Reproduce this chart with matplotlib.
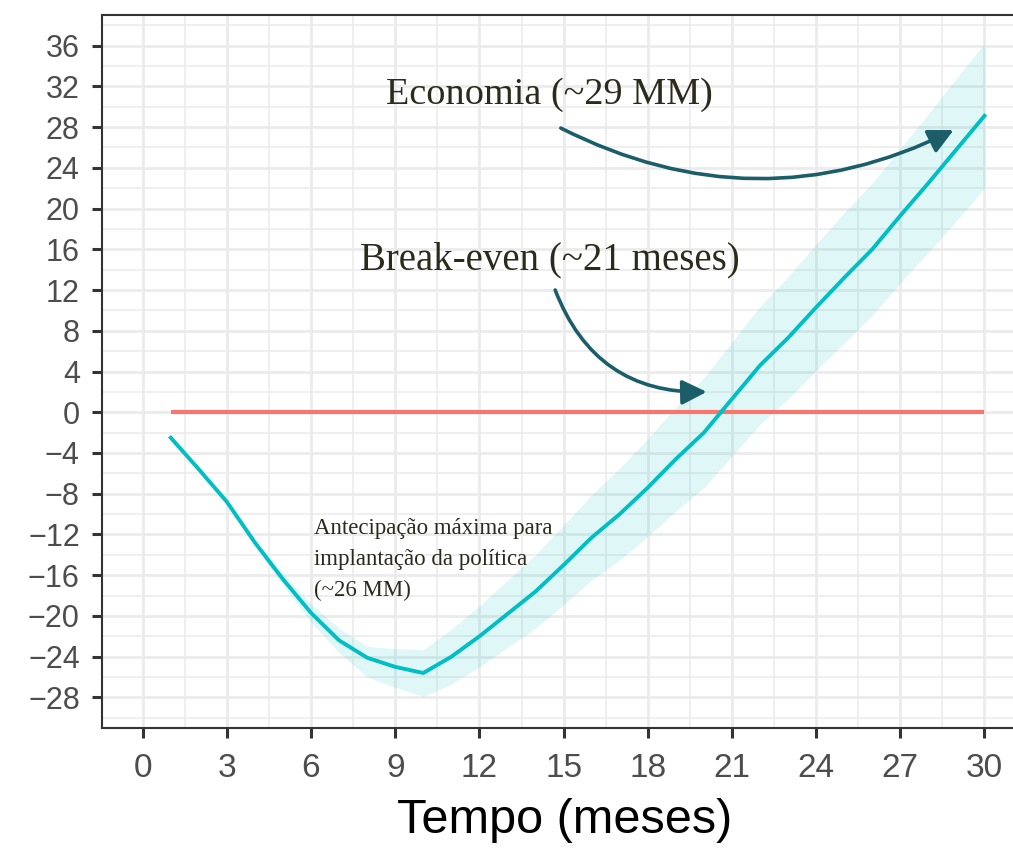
# -- Imports ---------------------------------------------------------------
import matplotlib
matplotlib.use("Agg")
import matplotlib.pyplot as plt

# -- Data ------------------------------------------------------------------
meses = [1, 2, 3, 4, 5, 6, 7, 8, 9, 10, 11, 12, 13, 14, 15, 16, 17, 18, 19,
         20, 21, 22, 23, 24, 25, 26, 27, 28, 29, 30]
saldo = [-2.5, -5.6, -8.8, -12.8, -16.4, -19.7, -22.4, -24.1, -25.0, -25.6,
         -24.0, -22.0, -19.8, -17.6, -15.0, -12.3, -10.0, -7.4, -4.6, -2.0,
         1.3, 4.6, 7.3, 10.3, 13.2, 16.0, 19.3, 22.5, 25.8, 29.1]
saldo_inf = [-2.5, -5.6, -8.9, -13.1, -17.0, -20.6, -23.6, -26.0, -27.0, -27.9,
             -26.7, -25.0, -23.1, -21.2, -18.9, -16.5, -14.5, -12.2, -9.7, -7.4,
             -4.3, -1.2, 1.3, 4.1, 6.8, 9.5, 12.7, 15.7, 18.8, 22.0]
saldo_sup = [-2.5, -5.6, -8.7, -12.5, -15.8, -18.8, -21.2, -23.0, -23.2, -23.3,
             -21.3, -19.0, -16.5, -14.0, -11.1, -8.1, -5.5, -2.6, 0.5, 3.4,
             6.9, 10.4, 13.3, 16.5, 19.6, 22.5, 25.9, 29.3, 32.8, 36.2]

x_ticks = [0, 3, 6, 9, 12, 15, 18, 21, 24, 27, 30]
y_ticks = [-28, -24, -20, -16, -12, -8, -4, 0, 4, 8, 12, 16, 20, 24, 28, 32, 36]

texto_economia = "Economia (~29 MM)"
texto_break = "Break-even (~21 meses)"
texto_antecip = "Antecipação máxima para\nimplantação da política\n(~26 MM)"

# -- Plot ------------------------------------------------------------------
plt.rcParams['font.family'] = ['Liberation Sans', 'DejaVu Sans']

fig = plt.figure(figsize=(10.13, 8.48), dpi=100)
ax = fig.add_axes([0.1007, 0.1415, 0.9127, 0.8408])

ax.set_xlim(-1.45, 31.45)
ax.set_ylim(-31.0, 39.0)

# grid like ggplot theme_bw
ax.set_xticks(x_ticks)
ax.set_yticks(y_ticks)
ax.set_xticks([t + 1.5 for t in x_ticks[:-1]] + [31.5], minor=True)
ax.set_yticks([t + 2 for t in y_ticks] + [-30], minor=True)
ax.grid(which='major', color='#ebebeb', linewidth=2.0, zorder=0)
ax.grid(which='minor', color='#ebebeb', linewidth=1.1, zorder=0)
ax.set_axisbelow(True)
ax.tick_params(which='minor', length=0)
ax.tick_params(which='major', length=7, width=2.2, color='#333333',
               labelcolor='#4d4d4d')
ax.tick_params(axis='y', labelsize=22, pad=9)
ax.tick_params(axis='x', labelsize=24, pad=11)
for s in ax.spines.values():
    s.set_color('#333333')
    s.set_linewidth(1.5)

# confidence band + line
ax.fill_between(meses, saldo_inf, saldo_sup, color='#00BFC4', alpha=0.12,
                linewidth=0, zorder=2)
ax.plot([meses[0], meses[-1]], [0, 0], color='#F8766D', linewidth=3, zorder=3,
        solid_capstyle='butt')
ax.plot(meses, saldo, color='#00BFC4', linewidth=2.8, zorder=4)

ax.set_xlabel("Tempo (meses)", fontsize=35, color='black', labelpad=10)

# annotations
cor_texto = '#2b2b1c'
cor_seta = '#1b5e69'
serif = ['Liberation Serif', 'DejaVu Serif']

ax.text(14.5, 31.2, texto_economia, fontsize=27.5, family=serif,
        color=cor_texto, ha='center', va='center')
ax.text(14.5, 15.0, texto_break, fontsize=28, family=serif,
        color=cor_texto, ha='center', va='center')
ax.text(6.1, -10.4, texto_antecip, fontsize=16.5, family=serif,
        color=cor_texto, ha='left', va='top', linespacing=1.6)

seta = dict(arrowstyle='-|>,head_length=0.6,head_width=0.3', color=cor_seta,
            lw=2.6, mutation_scale=25, shrinkA=0, shrinkB=0)
ax.annotate("", xy=(28.9, 27.7), xytext=(14.9, 27.9),
            arrowprops=dict(seta, connectionstyle='arc3,rad=0.25'), zorder=5)
ax.annotate("", xy=(20.1, 2.0), xytext=(14.7, 12.0),
            arrowprops=dict(seta, connectionstyle='arc3,rad=0.35'), zorder=5)

fig.savefig("out.png", dpi=100)
